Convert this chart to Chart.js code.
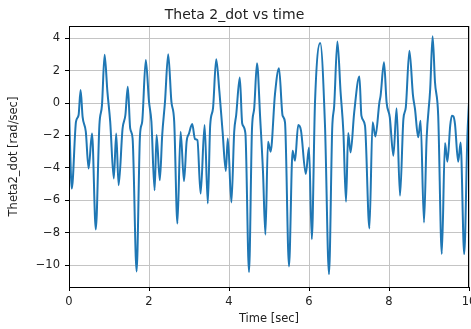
<!DOCTYPE html>
<html>
<head>
<meta charset="utf-8">
<script src="https://cdn.jsdelivr.net/npm/chart.js@4"></script>
<style>
  body { margin: 0; background: #fff; }
</style>
</head>
<body>
<canvas id="chart" width="471" height="329"></canvas>
<script>
// values
const times = [0.00, 0.07, 0.175, 0.24, 0.29, 0.34, 0.42, 0.49, 0.575, 0.67, 0.76, 0.825, 0.89, 0.96, 1.03, 1.12, 1.18, 1.24, 1.34, 1.41, 1.47, 1.53, 1.59, 1.69, 1.775, 1.83, 1.92, 2.00, 2.06, 2.14, 2.19, 2.27, 2.33, 2.40, 2.48, 2.56, 2.63, 2.71, 2.79, 2.875, 2.94, 3.00, 3.08, 3.15, 3.21, 3.29, 3.39, 3.47, 3.53, 3.60, 3.68, 3.76, 3.84, 3.92, 3.97, 4.06, 4.13, 4.18, 4.27, 4.33, 4.41, 4.50, 4.575, 4.63, 4.70, 4.78, 4.85, 4.91, 4.975, 5.04, 5.15, 5.25, 5.34, 5.40, 5.50, 5.59, 5.65, 5.73, 5.80, 5.92, 6.00, 6.07, 6.15, 6.28, 6.40, 6.50, 6.58, 6.63, 6.71, 6.79, 6.86, 6.925, 6.98, 7.04, 7.13, 7.26, 7.31, 7.40, 7.51, 7.59, 7.66, 7.76, 7.79, 7.875, 7.94, 8.02, 8.11, 8.19, 8.275, 8.36, 8.42, 8.51, 8.60, 8.65, 8.73, 8.79, 8.875, 8.94, 9.03, 9.09, 9.15, 9.23, 9.32, 9.40, 9.46, 9.53, 9.57, 9.61, 9.65, 9.73, 9.79, 9.88, 9.96, 10.00];
const theta2dot = [-0.3, -5.28, -1.15, -0.74, 0.8, -0.85, -1.77, -4.04, -1.88, -7.8, -1.36, -0.12, 2.97, 0.7, -1.15, -4.66, -1.88, -5.07, -1.57, -0.74, 1.01, -1.57, -2.19, -10.39, -1.98, -1.15, 2.66, 0.08, -1.15, -5.38, -1.98, -4.76, -1.98, 0.08, 3.01, 0.08, -1.15, -7.44, -1.77, -4.82, -2.39, -1.88, -1.3, -2.23, -2.29, -5.59, -1.36, -6.2, -1.36, -0.33, 2.7, 0.7, -1.77, -4.19, -2.19, -6.14, -1.77, -0.74, 1.57, -1.26, -1.88, -10.43, -1.57, -0.33, 2.45, -0.95, -4.25, -8.12, -2.39, -3.0, 0.56, 2.14, -0.78, -1.2, -10.08, -2.94, -3.56, -1.36, -1.7, -4.38, -2.74, -8.4, 0.04, 3.7, -1.4, -10.56, -1.6, -0.16, 3.79, 0.66, -1.8, -6.09, -1.85, -3.05, -0.58, 1.63, -0.78, -1.4, -7.74, -1.19, -2.06, 0.04, 0.45, 2.51, 0.04, -0.88, -3.25, -0.33, -5.72, -0.99, -0.27, 3.23, 0.45, -0.37, -2.12, -1.09, -7.37, -2.22, 0.86, 4.12, 1.28, -0.78, -9.32, -2.47, -3.62, -1.4, -0.78, -0.82, -1.3, -3.62, -2.43, -9.32, -2.02, 0.04];

const xTicks = [0, 2, 4, 6, 8, 10];
const yTicks = [-10, -8, -6, -4, -2, 0, 2, 4];

const font = "'DejaVu Sans', sans-serif";
const textColor = "#222";

// black box round the plot area, like matplotlib spines
const frame = {
  id: "frame",
  afterDraw(chart) {
    const { ctx, chartArea: a } = chart;
    ctx.save();
    ctx.strokeStyle = "#000";
    ctx.lineWidth = 1;
    ctx.strokeRect(a.left + 0.5, a.top + 0.5, a.right - a.left - 1, a.bottom - a.top);
    ctx.restore();
  }
};

// matplotlib writes negatives with a real minus sign
const minus = v => String(v).replace("-", "\u2212");

new Chart(document.getElementById("chart"), {
  type: "line",
  data: {
    datasets: [{
      data: times.map((t, i) => ({ x: t, y: theta2dot[i] })),
      borderColor: "#1f77b4",
      borderWidth: 2,
      pointRadius: 0,
      cubicInterpolationMode: "monotone",
      fill: false
    }]
  },
  options: {
    responsive: false,
    animation: false,
    layout: { padding: { left: 0, right: 2, top: 0, bottom: 0 } },
    plugins: {
      legend: { display: false },
      tooltip: { enabled: false },
      title: {
        display: true,
        text: "Theta 2_dot vs time",
        color: textColor,
        font: { family: font, size: 14, weight: "normal" },
        padding: { top: 6.6, bottom: 2.6 }
      }
    },
    scales: {
      x: {
        type: "linear",
        min: 0,
        max: 10,
        afterBuildTicks: s => { s.ticks = xTicks.map(v => ({ value: v })); },
        afterFit: s => { s.height = 42; s.paddingLeft = 0; s.paddingRight = 0; },
        ticks: { color: textColor, font: { family: font, size: 11.5 }, padding: 4, maxRotation: 0 },
        grid: { color: "#c4c4c4", lineWidth: 1, tickLength: 4, tickColor: "#000" },
        border: { color: "#000" },
        title: {
          display: true,
          text: "Time [sec]",
          color: textColor,
          font: { family: font, size: 11.5 },
          padding: { top: 0, bottom: 3 }
        }
      },
      y: {
        min: -11.35,
        max: 4.75,
        afterBuildTicks: s => { s.ticks = yTicks.map(v => ({ value: v })); },
        afterFit: s => { s.width = 69; s.paddingTop = 0; s.paddingBottom = 0; },
        ticks: { color: textColor, font: { family: font, size: 11.5 }, padding: 5, callback: minus },
        grid: { color: "#c4c4c4", lineWidth: 1, tickLength: 4, tickColor: "#000" },
        border: { color: "#000" },
        title: {
          display: true,
          text: "Theta2_dot [rad/sec]",
          color: textColor,
          font: { family: font, size: 11.5 },
          padding: { top: 7, bottom: 0 }
        }
      }
    }
  },
  plugins: [frame]
});
</script>
</body>
</html>
